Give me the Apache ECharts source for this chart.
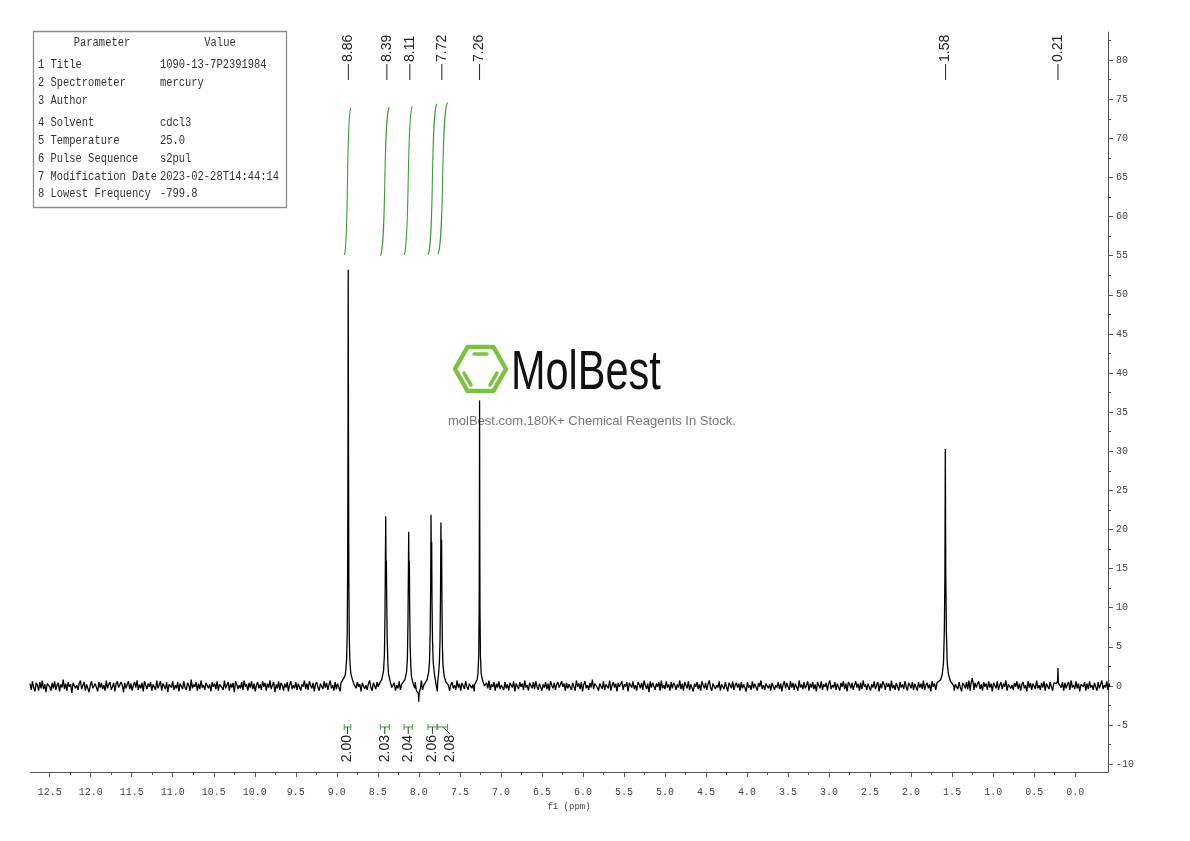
<!DOCTYPE html>
<html><head><meta charset="utf-8">
<script src="https://cdn.jsdelivr.net/npm/echarts@6/dist/echarts.min.js"></script>
<style>html,body{margin:0;padding:0;background:#fff}#c{width:1190px;height:841px}</style>
</head><body><div id="c"></div>
<script>
// ---------------- DATA ----------------
const xMajorTicks = [0,0.5,1,1.5,2,2.5,3,3.5,4,4.5,5,5.5,6,6.5,7,7.5,8,8.5,9,9.5,10,10.5,11,11.5,12,12.5];
const xMinorTicks = [0.25,0.75,1.25,1.75,2.25,2.75,3.25,3.75,4.25,4.75,5.25,5.75,6.25,6.75,7.25,7.75,8.25,8.75,9.25,9.75,10.25,10.75,11.25,11.75,12.25];
const yMajorTicks = [-10,-5,0,5,10,15,20,25,30,35,40,45,50,55,60,65,70,75,80];
const yMinorTicks = [-7.5,-2.5,2.5,7.5,12.5,17.5,22.5,27.5,32.5,37.5,42.5,47.5,52.5,57.5,62.5,67.5,72.5,77.5,82.5];

const paramNames = ['1 Title','2 Spectrometer','3 Author','4 Solvent','5 Temperature','6 Pulse Sequence','7 Modification Date','8 Lowest Frequency'];
const paramValues = ['1090-13-7P2391984','mercury','','cdcl3','25.0','s2pul','2023-02-28T14:44:14','-799.8'];

const peakLabelValues = [8.86, 8.39, 8.11, 7.72, 7.26, 1.58, 0.21];

const integralStart = [8.91, 8.47, 8.18, 7.89, 7.77];
const integralEnd   = [8.83, 8.36, 8.08, 7.78, 7.65];
const integralBase  = [55.1, 55.0, 55.1, 55.1, 55.2];
const integralTop   = [73.9, 74.0, 74.1, 74.4, 74.6];
const integralLabelPpm = [8.87, 8.415, 8.13, 7.835, 7.62];
const integralLabels = ['2.00','2.03','2.04','2.06','2.08'];

// baseline noise, read as a dense band about +-0.7 around zero
const noiseStart = 12.74, noiseStep = 0.015;
const baselineNoise = [
0.3,-0.5,0.6,-0.2,-0.7,0.4,0.1,-0.6,0.5,-0.3,0.7,-0.4,0.2,-0.8,0.3,0.5,-0.1,-0.6,0.4,-0.3,
0.6,-0.5,0.1,0.4,-0.7,0.2,-0.2,0.8,-0.4,0.3,-0.6,0.5,-0.1,0.2,-0.9,0.4,0.6,-0.3,0.1,-0.5,
0.3,0.7,-0.4,-0.2,0.5,-0.6,0.2,0.4,-0.8,0.1,0.6,-0.3,-0.5,0.3,0.2,-0.7,0.5,-0.2,0.4,-0.4,
0.1,-0.6,0.7,-0.3,0.2,0.5,-0.5,-0.1,0.4,-0.7,0.3,0.6,-0.2,-0.4,0.5,0.1,-0.8,0.4,-0.3,0.2,
0.6,-0.4,0.3,-0.6,0.1,0.5,-0.2,0.7,-0.5,0.2,-0.3,0.4,-0.7,0.6,0.1,-0.4,0.3,-0.1,0.5,-0.6,
0.2,0.4,-0.5,0.7,-0.3,-0.1,0.6,-0.6,0.3,0.1,-0.4,0.5,-0.8,0.2,0.4,-0.2,0.6,-0.5,0.1,-0.3,
0.5,-0.7,0.3,0.2,-0.4,0.6,-0.2,-0.5,0.4,0.1,-0.6,0.8,-0.3,0.2,-0.1,0.5,-0.6,0.3,-0.4,0.7,
-0.2,0.1,-0.5,0.4,0.6,-0.3,0.2,-0.7,0.5,-0.1,0.3,-0.4,0.6,-0.6,0.2,0.4,-0.2,-0.5,0.7,-0.3,
0.1,0.5,-0.6,0.3,-0.2,0.4,-0.8,0.6,0.2,-0.4,0.1,-0.3,0.5,-0.5,0.7,-0.1,0.2,-0.6,0.4,-0.2,
0.6,-0.4,0.3,-0.7,0.1,0.5,-0.3,0.2,-0.5,0.6,-0.1,0.4,-0.6,0.3,-0.2,0.7,-0.4,0.1,0.5,-0.8,
0.2,-0.3,0.6,-0.5,0.4,0.1,-0.6,0.3,-0.2,0.5,-0.7,0.2,0.6,-0.4,0.1,-0.3,0.5,-0.5,0.3,0.4,
-0.6,0.2,-0.1,0.7,-0.4,0.3,-0.5,0.6,0.1,-0.3,0.4,-0.7,0.2,0.5,-0.2,-0.6,0.3,0.1,-0.4,0.6,
-0.2,0.4,-0.5,0.2,0.7,-0.3,0.1,-0.6,0.5,-0.4,0.3,0.2,-0.7,0.4,-0.1,0.6,-0.5,0.3,-0.2,0.5,
-0.4,0.1,0.6,-0.6,0.3,-0.3,0.5,-0.1,0.2,-0.7,0.4,0.6,-0.4,0.1,-0.5,0.3,0.7,-0.2,-0.6,0.4,
0.2,-0.4,0.5,-0.1,0.3,-0.6,0.6,-0.3,0.1,0.4,-0.5,0.2,-0.8,0.5,0.3,-0.2,0.4,-0.6,0.1,-0.3,
0.6,-0.5,0.2,0.4,-0.3,0.1,-0.7,0.5,-0.2,0.3,0.6,-0.4,-0.1,0.5,-0.6,0.2,0.4,-0.3,0.7,-0.5,
0.1,-0.2,0.5,-0.6,0.3,0.2,-0.4,0.6,-0.3,0.4,-0.1,-0.7,0.5,0.2,-0.5,0.3,-0.2,0.6,-0.4,0.1,
0.4,-0.6,0.2,0.5,-0.3,0.1,-0.5,0.7,-0.2,0.3,-0.6,0.4,0.2,-0.4,0.6,-0.1,-0.5,0.3,0.5,-0.3,
0.2,-0.7,0.4,-0.1,0.6,-0.4,0.3,-0.2,0.5,-0.6,0.1,0.4,-0.3,0.7,-0.5,0.2,-0.1,0.5,-0.6,0.3,
-0.2,0.6,-0.4,0.1,0.3,-0.5,0.5,-0.3,0.2,-0.6,0.4,0.1,-0.2,0.6,-0.7,0.3,0.2,-0.4,0.5,-0.1,
0.3,-0.5,0.7,-0.2,0.1,-0.6,0.4,0.2,-0.3,0.5,-0.4,0.6,-0.1,-0.5,0.3,0.4,-0.6,0.2,-0.2,0.5,
-0.4,0.3,-0.6,0.6,0.1,-0.3,0.4,-0.5,0.2,0.5,-0.2,-0.4,0.6,-0.1,0.3,-0.6,0.4,-0.3,0.2,0.1,
-0.5,0.4,0.2,-0.6,0.7,-0.1,0.3,-0.4,0.5,-0.7,0.2,0.6,-0.3,0.1,-0.5,0.4,-0.2,0.8,-0.4,0.3,
0.5,-0.2,-0.6,0.3,0.1,-0.4,0.6,-0.5,0.2,0.4,-0.3,0.7,-0.6,0.1,0.5,-0.2,0.3,-0.7,0.4,-0.1,
-0.3,0.6,-0.5,0.2,-0.1,0.5,-0.7,0.4,0.3,-0.2,0.6,-0.4,0.1,-0.6,0.5,0.2,-0.3,0.4,-0.5,0.7,
0.1,-0.4,0.3,-0.8,0.6,-0.2,0.4,0.2,-0.5,0.3,-0.1,0.5,-0.6,0.7,-0.3,0.1,-0.4,0.6,-0.2,0.2,
-0.6,0.5,-0.3,0.4,0.1,-0.5,0.2,-0.2,0.7,-0.4,0.3,-0.6,0.5,0.1,-0.3,0.6,-0.5,0.2,0.4,-0.7,
0.3,-0.1,0.5,-0.4,0.2,-0.6,0.6,0.1,-0.3,0.4,-0.5,0.2,0.7,-0.2,-0.6,0.3,0.5,-0.4,0.1,-0.2,
0.6,-0.6,0.2,0.3,-0.4,0.5,-0.1,-0.7,0.4,0.2,-0.3,0.6,-0.5,0.1,0.4,-0.2,0.3,-0.6,0.5,-0.3,
0.2,0.4,-0.7,0.5,-0.2,0.1,-0.5,0.6,-0.3,0.3,0.2,-0.6,0.4,-0.1,0.7,-0.4,0.1,-0.5,0.3,0.5,
-0.3,0.2,-0.6,0.4,0.6,-0.5,0.1,-0.2,0.5,-0.4,0.3,-0.7,0.2,0.6,-0.3,0.4,-0.1,-0.5,0.6,-0.2,
0.4,-0.5,0.3,0.1,-0.6,0.7,-0.2,0.2,-0.4,0.5,-0.3,0.1,0.6,-0.6,0.3,-0.2,0.5,-0.4,0.2,-0.7,
0.5,0.1,-0.3,0.6,-0.5,0.2,-0.1,0.4,-0.6,0.3,0.7,-0.4,0.1,-0.2,0.5,-0.5,0.3,0.2,-0.6,0.4,
-0.1,0.6,-0.4,0.3,-0.7,0.5,0.2,-0.3,0.4,-0.5,0.1,0.6,-0.2,0.3,-0.6,0.4,-0.4,0.7,-0.1,0.2,
-0.5,0.3,0.4,-0.6,0.2,-0.2,0.6,-0.4,0.1,0.5,-0.7,0.3,-0.3,0.6,0.2,-0.5,0.4,-0.1,0.3,-0.6,
0.7,-0.3,0.1,-0.5,0.4,0.3,-0.6,0.5,-0.2,0.2,-0.4,0.6,-0.1,-0.6,0.4,0.1,-0.3,0.5,-0.5,0.3,
0.2,-0.6,0.5,-0.2,0.3,-0.4,0.7,-0.5,0.1,0.4,-0.3,0.2,-0.7,0.6,-0.1,0.3,-0.5,0.4,0.2,-0.4,
0.6,-0.2,-0.5,0.3,0.1,-0.6,0.5,-0.3,0.4,-0.1,0.6,-0.6,0.2,0.3,-0.4,0.5,-0.2,-0.7,0.4,0.1,
-0.3,0.5,-0.4,0.7,-0.6,0.2,0.1,-0.5,0.4,-0.2,0.3,0.6,-0.4,0.2,-0.6,0.5,-0.1,0.3,-0.5,0.6,
-0.2,0.3,-0.7,0.4,0.2,-0.3,0.6,-0.5,0.1,0.5,-0.4,0.3,-0.1,0.7,-0.6,0.2,0.4,-0.3,0.1,-0.5,
0.4,-0.1,0.6,-0.4,0.3,-0.6,0.2,0.5,-0.3,0.1,-0.7,0.6,-0.2,0.4,-0.5,0.3,0.2,-0.4,0.7,-0.3,
0.1,-0.5,0.4,-0.2,0.6,-0.6,0.3,0.2,-0.4,0.5,-0.1,-0.6,0.4,0.3,-0.5,0.6,-0.3,0.1,-0.2,0.5,
-0.6,0.4,-0.3,0.2,0.5,-0.5,0.7,-0.2,0.1,-0.4,0.6,-0.3,0.3,-0.7,0.2,0.4,-0.1,0.5,-0.6,0.3,
-0.4,0.6,-0.2,0.1,-0.5,0.4,0.3,-0.6,0.5,-0.3,0.2,0.7,-0.4,0.1,-0.2,0.6,-0.5,0.3,-0.1,0.4
];

// peak profiles [ppm, intensity]
const peak886 = [[8.95,0.4],[8.92,0.9],[8.90,1.3],[8.89,2.0],[8.88,3.5],[8.873,7],[8.868,15],[8.864,32],[8.861,53.2],[8.858,32],[8.854,14],[8.848,6],[8.84,3],[8.83,1.6],[8.81,0.8],[8.79,0.2]];
const peak840 = [[8.48,0.3],[8.45,0.9],[8.43,2],[8.42,4],[8.413,9],[8.408,16],[8.404,21.7],[8.400,14],[8.396,16],[8.392,11],[8.386,6],[8.378,3],[8.37,1.5],[8.35,0.6],[8.33,-0.2]];
const peak812 = [[8.20,0.2],[8.17,0.8],[8.15,1.8],[8.14,3.5],[8.133,8],[8.128,14],[8.124,19.7],[8.120,13],[8.116,16],[8.112,10],[8.106,5],[8.098,2.5],[8.09,1.2],[8.07,0.3],[8.05,-0.3]];
const dip800 = [[8.02,-0.5],[8.006,-1.0],[8.001,-2.0],[7.996,-0.8],[7.98,-0.3]];
const peak784 = [[7.93,0.2],[7.90,0.8],[7.88,1.8],[7.87,3.2],[7.862,7],[7.856,13],[7.852,21.9],[7.848,15],[7.844,18.4],[7.84,11],[7.834,6],[7.825,3],[7.81,1.5],[7.795,0.5],[7.78,-0.4]];
const peak772 = [[7.77,0.6],[7.76,1.5],[7.75,3],[7.742,6],[7.736,12],[7.731,20.9],[7.727,15],[7.723,18.7],[7.719,11],[7.713,5],[7.705,2.5],[7.69,1.2],[7.67,0.5],[7.64,0.1]];
const peak726 = [[7.32,0.2],[7.29,0.8],[7.28,1.5],[7.27,4],[7.265,10],[7.262,22],[7.26,36.5],[7.258,22],[7.255,10],[7.25,4],[7.24,1.5],[7.22,0.6],[7.20,0]];
const peak158 = [[1.68,0.2],[1.64,0.8],[1.62,1.5],[1.605,3],[1.595,7],[1.588,14],[1.583,30.3],[1.578,15],[1.57,7],[1.56,3],[1.545,1.5],[1.52,0.6],[1.48,0]];
const peak125 = [[1.27,0.3],[1.255,1.0],[1.24,0.2]];
const peak021 = [[0.23,0.3],[0.215,0.6],[0.21,2.3],[0.205,0.4],[0.19,0.1]];
const peakSegments = [peak886, peak840, peak812, dip800, peak784, peak772, peak726, peak158, peak125, peak021];

// ---------------- BUILD ----------------
function buildSpectrum(){
  const windows = peakSegments.map(s => [Math.min(...s.map(p=>p[0])), Math.max(...s.map(p=>p[0]))]);
  const pts = [];
  baselineNoise.forEach((v,i)=>{
    const x = noiseStart - i*noiseStep;
    if (!windows.some(w => x >= w[0]-1e-9 && x <= w[1]+1e-9)) pts.push([x, v]);
  });
  peakSegments.forEach(s => s.forEach(p => pts.push(p)));
  pts.sort((a,b)=>b[0]-a[0]);
  return pts;
}
const spectrum = buildSpectrum();

const XMIN = -0.40, XMAX = 12.74, YMIN = -11, YMAX = 83.6;
const axisColor = '#555';
const monoFont = 'Liberation Mono';
const green = '#3f9b3f';

const chart = echarts.init(document.getElementById('c'), null, {renderer:'canvas'});

// table graphic
const tFont = '12px ' + monoFont, tScale = 0.87;
const tableEls = [];
tableEls.push({type:'rect', shape:{x:33.5,y:31.5,width:253,height:176}, style:{fill:'#fff', stroke:'#8c8c8c', lineWidth:1.3}, z:10});
tableEls.push({type:'text', x:102, y:43, scaleX:tScale, style:{text:'Parameter', font:tFont, fill:'#333', align:'center', verticalAlign:'middle'}, z:11});
tableEls.push({type:'text', x:220, y:43, scaleX:tScale, style:{text:'Value', font:tFont, fill:'#333', align:'center', verticalAlign:'middle'}, z:11});
const rowY = [65,83,101,123,141,159,177,194];
paramNames.forEach((n,i)=>{
  tableEls.push({type:'text', x:38, y:rowY[i], scaleX:tScale, style:{text:n, font:tFont, fill:'#333', align:'left', verticalAlign:'middle'}, z:11});
  tableEls.push({type:'text', x:160, y:rowY[i], scaleX:tScale, style:{text:paramValues[i], font:tFont, fill:'#333', align:'left', verticalAlign:'middle'}, z:11});
});

// watermark logo
const logoGreen = '#7cc142';
const logoEls = [
  {type:'polygon', shape:{points:[[455,369],[467.5,347],[493.5,347],[506,369],[493.5,391],[467.5,391]]}, style:{fill:'none', stroke:logoGreen, lineWidth:4.5, lineJoin:'round'}, z:1},
  {type:'line', shape:{x1:474,y1:354,x2:487,y2:354}, style:{stroke:logoGreen, lineWidth:3.5, lineCap:'round'}, z:1},
  {type:'line', shape:{x1:464,y1:373,x2:471,y2:385}, style:{stroke:logoGreen, lineWidth:3.5, lineCap:'round'}, z:1},
  {type:'line', shape:{x1:497,y1:373,x2:490,y2:385}, style:{stroke:logoGreen, lineWidth:3.5, lineCap:'round'}, z:1},
  {type:'text', x:511, y:374, scaleX:0.74, style:{text:'MolBest', font:'56px Liberation Sans', fill:'#111', align:'left', verticalAlign:'middle'}, z:1},
  {type:'text', x:448, y:421, style:{text:'molBest.com,180K+ Chemical Reagents In Stock.', font:'13px Liberation Sans', fill:'#777', align:'left', verticalAlign:'middle'}, z:1}
];

const option = {
  animation:false,
  backgroundColor:'#fff',
  grid:{left:30, right:82, top:32, bottom:69, containLabel:false},
  xAxis:[
    {type:'value', inverse:true, min:XMIN, max:XMAX, position:'bottom',
     axisLine:{show:true, onZero:false, lineStyle:{color:axisColor, width:1}},
     axisTick:{show:true, customValues:xMajorTicks, length:5, inside:false, lineStyle:{color:axisColor}},
     axisLabel:{show:true, customValues:xMajorTicks, formatter:v=>v.toFixed(1), fontFamily:monoFont, fontSize:10, color:'#444', margin:15},
     splitLine:{show:false},
     name:'f1 (ppm)', nameLocation:'middle', nameGap:30, nameTextStyle:{fontFamily:monoFont, fontSize:9, color:'#444'}},
    {type:'value', inverse:true, min:XMIN, max:XMAX, position:'bottom',
     axisLine:{show:false, onZero:false}, axisTick:{show:true, customValues:xMinorTicks, length:3, lineStyle:{color:axisColor}},
     axisLabel:{show:false}, splitLine:{show:false}}
  ],
  yAxis:[
    {type:'value', min:YMIN, max:YMAX, position:'right',
     axisLine:{show:true, onZero:false, lineStyle:{color:axisColor, width:1}},
     axisTick:{show:true, customValues:yMajorTicks, length:5, lineStyle:{color:axisColor}},
     axisLabel:{show:true, customValues:yMajorTicks, fontFamily:monoFont, fontSize:10, color:'#444', margin:8},
     splitLine:{show:false}},
    {type:'value', min:YMIN, max:YMAX, position:'right',
     axisLine:{show:false, onZero:false}, axisTick:{show:true, customValues:yMinorTicks, length:3, lineStyle:{color:axisColor}},
     axisLabel:{show:false}, splitLine:{show:false}}
  ],
  graphic:{elements: logoEls.concat(tableEls)},
  series:[
    {type:'line', name:'spectrum', xAxisIndex:0, yAxisIndex:0, data:spectrum, showSymbol:false, symbol:'none',
     lineStyle:{color:'#000', width:1.3}, z:3, silent:true, clip:true},
    {type:'custom', name:'integrals', xAxisIndex:0, yAxisIndex:0, z:4, silent:true,
     data: integralStart.map((s,i)=>[s, integralEnd[i], integralBase[i], integralTop[i]]),
     renderItem:(params, api)=>{
       const p0 = api.coord([api.value(0), api.value(2)]);
       const p1 = api.coord([api.value(1), api.value(3)]);
       const dx = p1[0]-p0[0];
       return {type:'bezierCurve', shape:{x1:p0[0], y1:p0[1], x2:p1[0], y2:p1[1],
         cpx1:p0[0]+dx*0.7, cpy1:p0[1]-(p0[1]-p1[1])*0.05, cpx2:p1[0]-dx*0.7, cpy2:p1[1]+(p0[1]-p1[1])*0.05},
         style:{stroke:green, lineWidth:1.1, fill:null}};
     }},
    {type:'custom', name:'integralLabels', xAxisIndex:0, yAxisIndex:0, z:4, silent:true, clip:false,
     data: integralStart.map((s,i)=>[s, integralEnd[i], integralLabelPpm[i]]),
     renderItem:(params, api)=>{
       const cs = params.coordSys;
       const by = cs.y + cs.height - 45;
       const a = api.coord([api.value(0), 0])[0];
       const b = api.coord([api.value(1), 0])[0];
       const lx = api.coord([api.value(2), 0])[0];
       const mid = (a+b)/2;
       return {type:'group', children:[
         {type:'line', shape:{x1:a, y1:by, x2:b, y2:by}, style:{stroke:green, lineWidth:1}},
         {type:'line', shape:{x1:a, y1:by-3, x2:a, y2:by+3}, style:{stroke:green, lineWidth:1}},
         {type:'line', shape:{x1:b, y1:by-3, x2:b, y2:by+3}, style:{stroke:green, lineWidth:1}},
         {type:'line', shape:{x1:mid, y1:by, x2:lx, y2:by+7}, style:{stroke:'#333', lineWidth:1}},
         {type:'text', x:lx, y:by+8, rotation:Math.PI/2,
          style:{text:integralLabels[params.dataIndex], font:'14px Liberation Sans', fill:'#222', align:'right', verticalAlign:'middle'}}
       ]};
     }},
    {type:'custom', name:'peakLabels', xAxisIndex:0, yAxisIndex:0, z:4, silent:true, clip:false,
     data: peakLabelValues.map(v=>[v]),
     renderItem:(params, api)=>{
       const cs = params.coordSys;
       const v = api.value(0);
       const x = api.coord([v, 0])[0];
       const t = cs.y;
       return {type:'group', children:[
         {type:'text', x:x, y:t+30, rotation:Math.PI/2,
          style:{text:v.toFixed(2), font:'14px Liberation Sans', fill:'#222', align:'left', verticalAlign:'middle'}},
         {type:'line', shape:{x1:x, y1:t+32, x2:x, y2:t+48}, style:{stroke:'#222', lineWidth:1}}
       ]};
     }}
  ]
};
chart.setOption(option);
</script>
</body></html>
